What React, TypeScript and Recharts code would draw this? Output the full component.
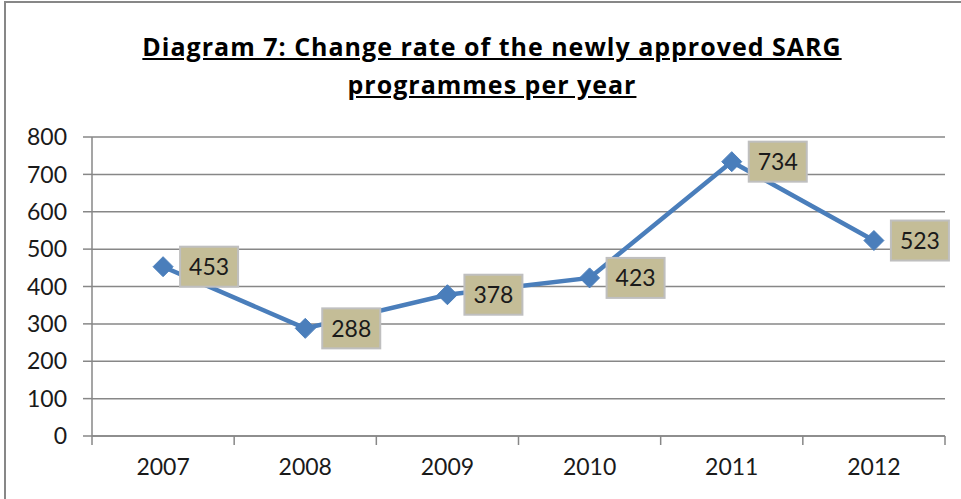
import { CartesianGrid, LabelList, Line, LineChart, XAxis, YAxis } from "recharts";

const years = ["2007", "2008", "2009", "2010", "2011", "2012"];
const programmes = [453, 288, 378, 423, 734, 523];
const yTicks = [0, 100, 200, 300, 400, 500, 600, 700, 800];

const chartData = years.map((year, i) => ({ year, programmes: programmes[i] }));

const FONT = "Lato, 'Open Sans', sans-serif";
const TITLE_FONT = "'Open Sans', Lato, sans-serif";
const PLOT_LEFT = 92;
const PLOT_RIGHT = 945;
const BAND = (PLOT_RIGHT - PLOT_LEFT) / years.length;
const TICK_SIZE = 9;
const TICK_MARGIN = 14;

function YearTick(props: any) {
  const { x, y, payload, index } = props;
  const axisY = y - TICK_SIZE - TICK_MARGIN;
  const left = x - BAND / 2;
  const right = x + BAND / 2;
  return (
    <g>
      <line x1={left} y1={axisY} x2={left} y2={axisY + TICK_SIZE} stroke="#878787" strokeWidth={1.5} />
      {index === years.length - 1 && (
        <line x1={right} y1={axisY} x2={right} y2={axisY + TICK_SIZE} stroke="#878787" strokeWidth={1.5} />
      )}
      <text x={x} y={y} dy="0.71em" textAnchor="middle" fill="#1a1a1a" fontSize={23} fontFamily={FONT}>
        {payload.value}
      </text>
    </g>
  );
}

function Diamond(props: any) {
  const { cx, cy } = props;
  if (cx == null || cy == null) return null;
  const r = 10;
  return (
    <polygon
      points={`${cx},${cy - r} ${cx + r},${cy} ${cx},${cy + r} ${cx - r},${cy}`}
      fill="#4a7ebb"
      stroke="#4a7ebb"
      strokeWidth={1}
    />
  );
}

function ValueBox(props: any) {
  const { x, y, value } = props;
  const w = 58;
  const h = 40;
  const bx = x + 17;
  const by = y - h / 2;
  return (
    <g>
      <rect x={bx} y={by} width={w} height={h} fill="#c4bd97" stroke="#bfbfbf" strokeWidth={2} />
      <text
        x={bx + w / 2}
        y={by + h / 2}
        dy="0.36em"
        textAnchor="middle"
        fill="#1a1a1a"
        fontSize={23}
        fontFamily={FONT}
      >
        {value}
      </text>
    </g>
  );
}

export default function App() {
  return (
    <div style={{ position: "absolute", left: 0, top: 0, width: 961, height: 499, overflow: "hidden", background: "#fff" }}>
      <div
        style={{
          position: "absolute",
          left: 4,
          top: 1,
          width: 1000,
          height: 600,
          border: "2px solid #878787",
          boxSizing: "border-box",
        }}
      />
      <div
        style={{
          position: "absolute",
          left: 92,
          width: 800,
          top: 27,
          textAlign: "center",
          fontFamily: TITLE_FONT,
          fontWeight: 700,
          fontSize: 25,
          letterSpacing: 1,
          lineHeight: "38px",
          textDecoration: "underline",
          color: "#000",
        }}
      >
        Diagram 7: Change rate of the newly approved SARG
        <br />
        programmes per year
      </div>
      <div style={{ position: "absolute", left: 0, top: 0 }}>
        <LineChart width={961} height={499} data={chartData} margin={{ top: 137, right: 961 - PLOT_RIGHT, bottom: 0, left: 0 }}>
          <CartesianGrid vertical={false} stroke="#878787" strokeWidth={1.5} />
          <XAxis
            dataKey="year"
            scale="band"
            height={63}
            axisLine={{ stroke: "#878787", strokeWidth: 1.5 }}
            tickLine={false}
            tickSize={TICK_SIZE}
            tickMargin={TICK_MARGIN}
            tick={<YearTick />}
            interval={0}
          />
          <YAxis
            width={PLOT_LEFT}
            domain={[0, 800]}
            ticks={yTicks}
            interval={0}
            axisLine={{ stroke: "#878787", strokeWidth: 1.5 }}
            tickLine={{ stroke: "#878787", strokeWidth: 1.5 }}
            tickSize={TICK_SIZE}
            tickMargin={16}
            tick={{ fill: "#1a1a1a", fontSize: 23, fontFamily: FONT }}
          />
          <Line
            dataKey="programmes"
            stroke="#4a7ebb"
            strokeWidth={4.5}
            dot={<Diamond />}
            activeDot={false}
            isAnimationActive={false}
          >
            <LabelList dataKey="programmes" content={<ValueBox />} />
          </Line>
        </LineChart>
      </div>
    </div>
  );
}
